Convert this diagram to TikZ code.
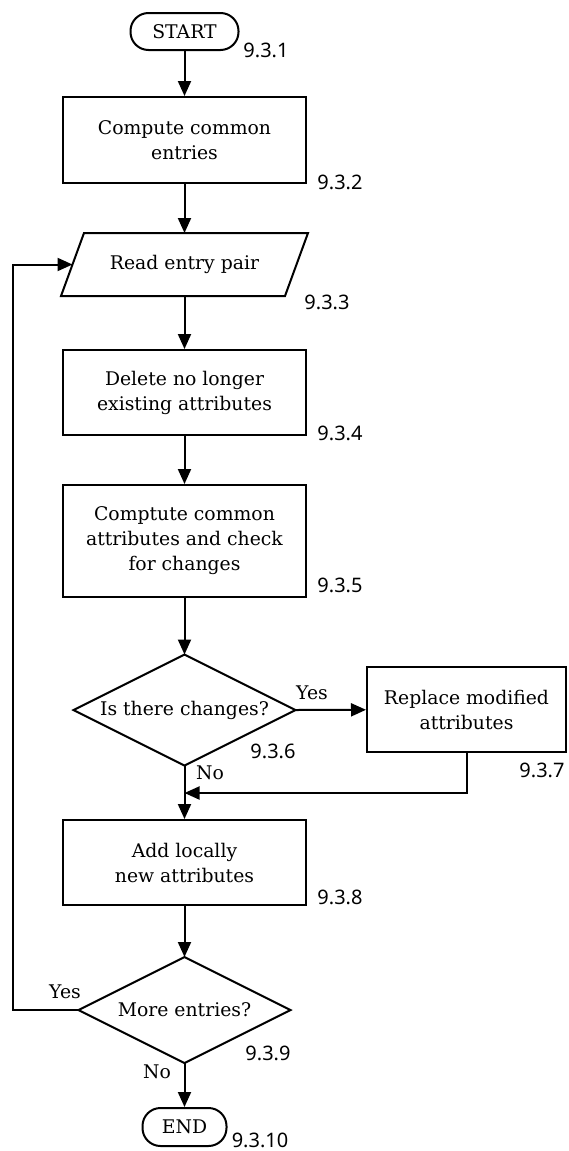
\documentclass[tikz,border=0pt]{standalone}
\usepackage{fontspec}
\setmainfont{DejaVu Serif}
\newfontfamily\numfont{Noto Sans}
\usetikzlibrary{arrows.meta}
\begin{document}
\begin{tikzpicture}[x=1pt,y=-1pt,
  line width=2pt,
  txt/.style={font=\fontsize{18.8}{25}\selectfont, align=center, inner sep=0pt},
  stepbox/.style={txt, draw, minimum width=243pt},
  term/.style={txt, draw, rounded corners=18pt},
  flow/.style={-{Triangle[length=15pt,width=13pt]}},
  num/.style={font=\numfont\fontsize{20}{24}\selectfont, inner sep=0pt}]
\useasboundingbox (0,0) rectangle (569,1151);
\fill[white] (0,0) rectangle (569,1151);

% terminals and process steps
\node[term, minimum width=108pt, minimum height=37pt] (start) at (184.5,31.5) {START};
\node[stepbox, minimum height=86pt] (entries) at (184.5,140) {Compute common\\entries};

% input step (parallelogram)
\coordinate (read) at (184.5,264.5);
\draw (read) ++(-123.5,31.5) -- ++(23,-63) coordinate (readNW) -- ++(224,0) -- ++(-23,63) -- cycle;
\coordinate (readN) at (184.5,233);
\coordinate (readS) at (184.5,296);
\coordinate (readW) at (72.5,264.5);
\node[txt] (readtext) at (read) {Read entry pair};

\node[stepbox, minimum height=85pt] (delete) at (184.5,392.5) {Delete no longer\\existing attributes};
\node[stepbox, minimum height=112pt] (attrs) at (184.5,541) {Comptute common\\attributes and check\\for changes};

% decision: changes?
\coordinate (chg) at (184.5,710);
\draw (chg) ++(-111,0) coordinate (chgW) -- ++(111,-55.5) coordinate (chgN)
  -- ++(111,55.5) coordinate (chgE) -- ++(-111,55.5) coordinate (chgS) -- cycle;
\node[txt] (chgtext) at (chg) {Is there changes?};

\node[stepbox, minimum width=199pt, minimum height=85pt] (replace) at (466.5,709.5) {Replace modified\\attributes};
\node[stepbox, minimum height=85pt] (addnew) at (184.5,862.5) {Add locally\\new attributes};

% decision: more entries?
\coordinate (more) at (184.5,1010);
\draw (more) ++(-106,0) coordinate (moreW) -- ++(106,-53) coordinate (moreN)
  -- ++(106,53) coordinate (moreE) -- ++(-106,53) coordinate (moreS) -- cycle;
\node[txt] (moretext) at (more) {More entries?};

\node[term, minimum width=84pt, minimum height=38pt] (end) at (184.5,1127) {END};

% connectors
\coordinate (join) at (184.5,793);
\coordinate (loopB) at (13,1010);
\draw[flow] (start) -- (entries);
\draw[flow] (entries) -- (readN);
\draw[flow] (readS) -- (delete);
\draw[flow] (delete) -- (attrs);
\draw[flow] (attrs) -- (chgN);
\draw[flow] (chgE) -- (replace);
\draw[flow] (chgS) -- (addnew);
\draw[flow] (replace.south) |- (join);
\draw[flow] (addnew) -- (moreN);
\draw[flow] (moreS) -- (end);
\draw[flow] (moreW) -- (loopB) |- (readW);

% branch labels
\node[txt] (yes1) at (312,693) {Yes};
\node[txt] (no1) at (210,773) {No};
\node[txt] (yes2) at (65,992) {Yes};
\node[txt] (no2) at (157,1072) {No};

% step numbers
\node[num] (n1) at (266,50) {9.3.1};
\node[num] (n2) at (340,182) {9.3.2};
\node[num] (n3) at (327,302) {9.3.3};
\node[num] (n4) at (340,433) {9.3.4};
\node[num] (n5) at (340,585) {9.3.5};
\node[num] (n6) at (273,751) {9.3.6};
\node[num] (n7) at (542,770) {9.3.7};
\node[num] (n8) at (340,897) {9.3.8};
\node[num] (n9) at (268,1053) {9.3.9};
\node[num] (n10) at (260,1140) {9.3.10};
\end{tikzpicture}
\end{document}
